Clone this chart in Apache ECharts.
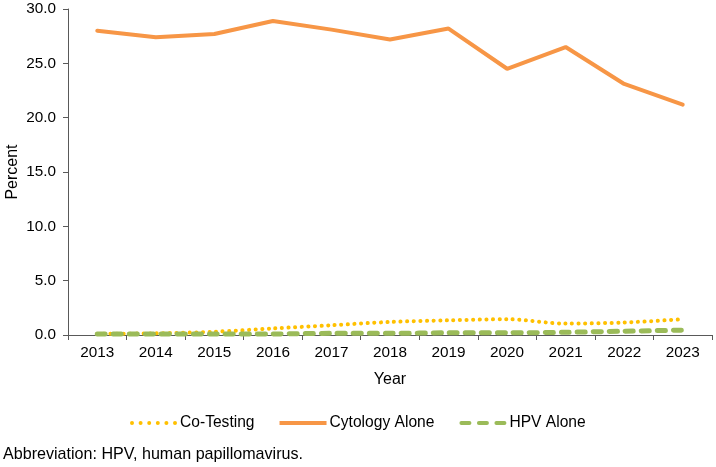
<!DOCTYPE html>
<html><head><meta charset="utf-8">
<script src="https://cdn.jsdelivr.net/npm/echarts@6/dist/echarts.min.js"></script>
<style>html,body{margin:0;padding:0;background:#fff}#c{width:716px;height:467px}</style>
</head><body><div id="c"></div>
<script>
const years = ['2013','2014','2015','2016','2017','2018','2019','2020','2021','2022','2023'];
const coTesting = [0.1, 0.15, 0.3, 0.6, 0.9, 1.2, 1.35, 1.45, 1.05, 1.15, 1.45];
const cytologyAlone = [28.0, 27.4, 27.7, 28.9, 28.1, 27.2, 28.2, 24.5, 26.5, 23.1, 21.2];
const hpvAlone = [0.1, 0.1, 0.1, 0.1, 0.15, 0.15, 0.2, 0.2, 0.25, 0.35, 0.45];
const yTicks = [0, 5, 10, 15, 20, 25, 30];

// legend icon shapes
function dotsPath() {
  let p = '';
  const r = 2;
  for (let i = 0; i < 6; i++) {
    const cx = 2 + i * 8.6;
    p += `M${cx - r},2 a${r},${r} 0 1,0 ${2*r},0 a${r},${r} 0 1,0 ${-2*r},0 Z `;
  }
  return 'path://' + p;
}
const solidPath = 'path://M0,0 L47,0 L47,4 L0,4 Z';
function dashPath() {
  let p = '';
  [[0,12],[17.5,29.5],[35,47]].forEach(([a,b]) => {
    p += `M${a+2},0 L${b-2},0 A2,2 0 0,1 ${b-2},4 L${a+2},4 A2,2 0 0,1 ${a+2},0 Z `;
  });
  return 'path://' + p;
}

const font = 'Arial, "Liberation Sans", sans-serif';
const chart = echarts.init(document.getElementById('c'));
chart.setOption({
  animation: false,
  grid: {left: 68, right: 4, top: 9, bottom: 132, containLabel: false, outerBoundsMode: 'none'},
  title: {text: 'Abbreviation: HPV, human papillomavirus.', left: 3, top: 447, padding: 0,
    textStyle: {fontFamily: font, fontSize: 16.1, fontWeight: 'normal', color: '#000'}},
  legend: {
    top: 415, left: 130, padding: 0, itemWidth: 47, itemHeight: 4, itemGap: 25,
    textStyle: {fontFamily: font, fontSize: 15.6, color: '#000', padding: [0,0,0,-2]},
    data: [
      {name: 'Co-Testing', icon: dotsPath(), itemStyle: {color: '#FFC000'}},
      {name: 'Cytology Alone', icon: solidPath, itemStyle: {color: '#F79646'}},
      {name: 'HPV Alone', icon: dashPath(), itemStyle: {color: '#9BBB59'}}
    ]
  },
  xAxis: {
    type: 'category', data: years, boundaryGap: true,
    name: 'Year', nameLocation: 'middle', nameGap: 37, nameMoveOverlap: false,
    nameTextStyle: {fontFamily: font, fontSize: 16, color: '#000'},
    axisLine: {lineStyle: {color: '#595959', width: 1}},
    axisTick: {show: true, length: 5, lineStyle: {color: '#595959'}},
    axisLabel: {fontFamily: font, fontSize: 15.3, color: '#000', margin: 10}
  },
  yAxis: {
    type: 'value', min: yTicks[0], max: yTicks[yTicks.length-1], interval: 5,
    name: 'Percent', nameLocation: 'middle', nameGap: 47, nameMoveOverlap: false,
    nameTextStyle: {fontFamily: font, fontSize: 16, color: '#000'},
    splitLine: {show: false},
    axisLine: {show: true, lineStyle: {color: '#595959', width: 1}},
    axisTick: {show: true, length: 5, lineStyle: {color: '#595959'}},
    axisLabel: {fontFamily: font, fontSize: 15.3, color: '#000', margin: 12,
      formatter: v => v.toFixed(1)}
  },
  series: [
    {name: 'Co-Testing', type: 'line', data: coTesting, smooth: 0.3, symbol: 'none',
      itemStyle: {color: '#FFC000'},
      lineStyle: {color: '#FFC000', width: 4, type: [0.1, 6.5], cap: 'round'}},
    {name: 'Cytology Alone', type: 'line', data: cytologyAlone, symbol: 'none',
      itemStyle: {color: '#F79646'},
      lineStyle: {color: '#F79646', width: 4, cap: 'round'}},
    {name: 'HPV Alone', type: 'line', data: hpvAlone, smooth: 0.3, symbol: 'none',
      itemStyle: {color: '#9BBB59'},
      lineStyle: {color: '#9BBB59', width: 5, type: [8, 8], cap: 'round'}}
  ]
});
</script></body></html>
